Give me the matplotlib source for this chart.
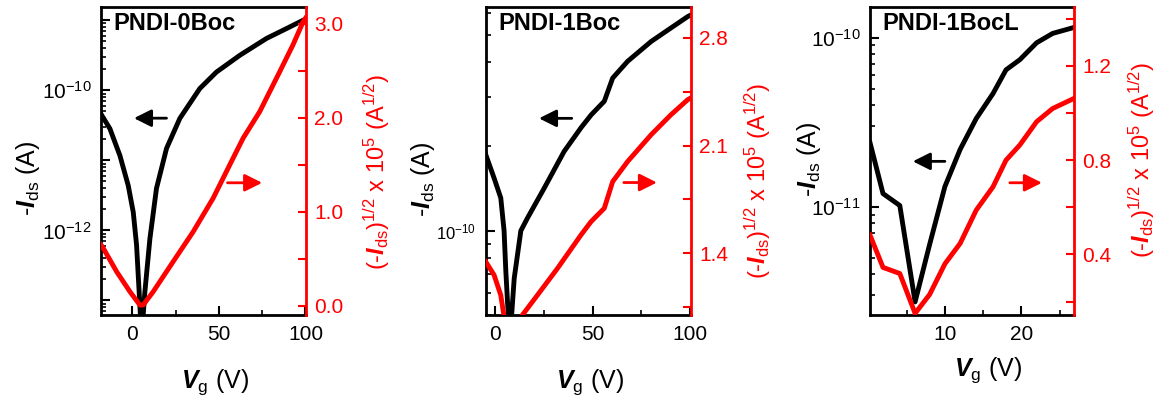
"""
PNDI 系トランジスタの伝達特性（3パネル）

左軸: -Ids（対数）、右軸: (-Ids)^1/2 x 10^5（線形）
"""

import matplotlib

matplotlib.use("Agg")
import matplotlib.pyplot as plt
from matplotlib.ticker import FixedLocator, NullFormatter, LogLocator

plt.rcParams["font.family"] = ["Liberation Sans", "DejaVu Sans"]
plt.rcParams["mathtext.fontset"] = "custom"
plt.rcParams["mathtext.rm"] = "Liberation Sans"
plt.rcParams["mathtext.it"] = "Liberation Sans:italic"
plt.rcParams["mathtext.bf"] = "Liberation Sans:bold"
plt.rcParams["mathtext.bfit"] = "Liberation Sans:bold:italic"

# ---- PNDI-0Boc ----
vg0_log = [-18, -17.6, -12.9, -7.1, -2.3, 0.6, 2.5, 4.0, 5.4, 7.3, 10.2, 14.0, 19.8, 27.5,
           39.0, 48.6, 62.1, 77.5, 89, 98.6, 100]
ids0 = [4.6e-11, 4.4e-11, 2.84e-11, 1.17e-11, 4.37e-12, 1.82e-12, 6.2e-13, 1.32e-13, 3.0e-14,
        1.32e-13, 7.6e-13, 3.98e-12, 1.48e-11, 3.98e-11, 1.06e-10, 1.82e-10, 3.16e-10, 5.5e-10,
        7.6e-10, 1.0e-9, 1.03e-9]
vg0_sqrt = [-18, -16.7, -9.0, -1.3, 4.4, 6.3, 12.1, 23.6, 35.2, 46.7, 58.2, 64, 73.6, 85.1, 92.8,
            98.6, 100]
sqrt0 = [0.65, 0.614, 0.365, 0.152, 0.01, 0.01, 0.152, 0.471, 0.79, 1.146, 1.571, 1.784, 2.067,
         2.49, 2.777, 3.02, 3.06]

# ---- PNDI-1Boc ----
vg1_log = [-4.8, -0.5, 2.9, 4.6, 5.5, 7.5, 9.8, 13.2, 16.6, 25.2, 35.4, 44.0, 49.2, 56.0, 60.3,
           68, 80, 90.2, 98.8, 100.5]
ids1 = [1.87e-10, 1.54e-10, 1.31e-10, 1.0e-10, 7.16e-11, 4.0e-11, 6.76e-11, 1.0e-10, 1.11e-10,
        1.42e-10, 1.92e-10, 2.33e-10, 2.59e-10, 2.90e-10, 3.51e-10, 4.03e-10, 4.74e-10, 5.30e-10,
        5.82e-10, 5.9e-10]
vg1_sqrt = [-4.8, -0.5, 2.9, 4.6, 9, 14.0, 21.7, 32.0, 44.0, 49.2, 56.0, 60.3, 68, 80, 90.2, 98.8,
            100.5]
sqrt1 = [1.346, 1.259, 1.129, 0.99, 0.8, 1.0, 1.129, 1.303, 1.519, 1.606, 1.693, 1.866, 1.997,
         2.17, 2.30, 2.398, 2.41]

# ---- PNDI-1BocL ----
vg2 = [0.2, 1.9, 4.1, 6.1, 8, 10, 12, 14.1, 16.3, 18, 19.8, 22, 24.1, 26.9]
ids2 = [2.4e-11, 1.2e-11, 1.02e-11, 2.75e-12, 6.0e-12, 1.32e-11, 2.19e-11, 3.33e-11, 4.68e-11,
        6.46e-11, 7.41e-11, 9.33e-11, 1.06e-10, 1.15e-10]
sqrt2 = [0.482, 0.345, 0.319, 0.15, 0.23, 0.36, 0.447, 0.588, 0.687, 0.8, 0.864, 0.963, 1.019, 1.062]

titles = ["PNDI-0Boc", "PNDI-1Boc", "PNDI-1BocL"]

LOG_LABEL = r"-$\mathbfit{I}_{\rm ds}$ (A)"
SQRT_LABEL = r"(-$\mathbfit{I}_{\rm ds}$)$^{1/2}$ x 10$^5$ (A$^{1/2}$)"
X_LABEL = r"$\mathbfit{V}_{\rm g}$ (V)"
LW = 3.5


def style_panel(ax, ax2, title):
    """軸・目盛の共通スタイル"""
    for side in ["left", "top", "bottom"]:
        ax.spines[side].set_linewidth(2)
    ax.spines["right"].set_visible(False)
    ax2.spines["right"].set_color("red")
    ax2.spines["right"].set_linewidth(2)
    for side in ["left", "top", "bottom"]:
        ax2.spines[side].set_visible(False)

    ax.tick_params(which="major", direction="in", length=6.5, width=1.5, labelsize=15, pad=7)
    ax.tick_params(which="minor", direction="in", length=3.5, width=1.2)
    ax.tick_params(axis="x", which="both", top=False)
    ax2.tick_params(which="major", direction="in", length=6, width=1.5, colors="red", labelsize=15, pad=6)
    ax2.tick_params(which="minor", direction="in", length=6, width=1.5, colors="red")

    ax.text(0.06, 0.985, title, transform=ax.transAxes, ha="left", va="top",
            fontsize=17, fontweight="bold")


def add_arrows(ax, ax2, black_xy, red_xy):
    """左右の軸を示す矢印"""
    style = "-|>,head_length=0.5,head_width=0.25"
    ax.annotate("", xy=black_xy[1], xytext=black_xy[0],
                arrowprops=dict(arrowstyle=style, color="black", lw=2,
                                mutation_scale=21, shrinkA=0, shrinkB=0))
    ax2.annotate("", xy=red_xy[1], xytext=red_xy[0],
                 arrowprops=dict(arrowstyle=style, color="red", lw=2,
                                 mutation_scale=21, shrinkA=0, shrinkB=0))


fig = plt.figure(figsize=(11.56, 4.07), dpi=100)
rects = [[0.0874, 0.226, 0.1773, 0.757],
         [0.4202, 0.226, 0.1776, 0.757],
         [0.7526, 0.226, 0.1765, 0.757]]
axes = [fig.add_axes(r) for r in rects]
twins = []

# パネル 1
ax = axes[0]
ax2 = ax.twinx()
twins.append(ax2)
ax.plot(vg0_log, ids0, color="black", lw=LW)
ax2.plot(vg0_sqrt, sqrt0, color="red", lw=LW)
ax.set_yscale("log")
ax.set_xlim(-18, 100.3)
ax.set_ylim(6.2e-14, 1.55e-9)
ax2.set_ylim(-0.096, 3.18)
ax.set_xticks([0, 50, 100])
ax.xaxis.set_minor_locator(FixedLocator([25, 75]))
ax.set_yticks([1e-13, 1e-12, 1e-11, 1e-10, 1e-9],
              ["", r"10$^{-12}$", "", r"10$^{-10}$", ""])
ax.yaxis.set_minor_locator(LogLocator(base=10, subs=range(2, 10), numticks=20))
ax.yaxis.set_minor_formatter(NullFormatter())
ax2.set_yticks([0, 1, 2, 3], ["0.0", "1.0", "2.0", "3.0"])
ax2.yaxis.set_minor_locator(FixedLocator([0.5, 1.5, 2.5]))
style_panel(ax, ax2, titles[0])
add_arrows(ax, ax2, [(19.8, 4.0e-11), (1.0, 4.0e-11)], [(55, 1.31), (75, 1.31)])

# パネル 2
ax = axes[1]
ax2 = ax.twinx()
twins.append(ax2)
ax.plot(vg1_log, ids1, color="black", lw=LW)
ax2.plot(vg1_sqrt, sqrt1, color="red", lw=LW)
ax.set_yscale("log")
ax.set_xlim(-4.8, 100.5)
ax.set_ylim(5.0e-11, 6.3e-10)
ax2.set_ylim(1.0, 3.0)
ax.set_xticks([0, 50, 100])
ax.xaxis.set_minor_locator(FixedLocator([25, 75]))
ax.set_yticks([1e-10], [r"10$^{-10}$"])
ax.yaxis.set_minor_locator(LogLocator(base=10, subs=range(2, 10), numticks=20))
ax.yaxis.set_minor_formatter(NullFormatter())
ax2.set_yticks([1.4, 2.1, 2.8], ["1.4", "2.1", "2.8"])
ax2.yaxis.set_minor_locator(FixedLocator([1.05, 1.75, 2.45]))
style_panel(ax, ax2, titles[1])
ax.tick_params(axis="y", labelsize=12)
add_arrows(ax, ax2, [(39.3, 2.52e-10), (22.5, 2.52e-10)], [(66, 1.86), (83, 1.86)])

# パネル 3
ax = axes[2]
ax2 = ax.twinx()
twins.append(ax2)
ax.plot(vg2, ids2, color="black", lw=LW)
ax2.plot(vg2, sqrt2, color="red", lw=LW)
ax.set_yscale("log")
ax.set_xlim(0.2, 26.9)
ax.set_ylim(2.3e-12, 1.52e-10)
ax2.set_ylim(0.143, 1.45)
ax.set_xticks([10, 20])
ax.xaxis.set_minor_locator(FixedLocator([5, 15, 25]))
ax.set_yticks([1e-11, 1e-10], [r"10$^{-11}$", r"10$^{-10}$"])
ax.yaxis.set_minor_locator(LogLocator(base=10, subs=range(2, 10), numticks=20))
ax.yaxis.set_minor_formatter(NullFormatter())
ax2.set_yticks([0.4, 0.8, 1.2], ["0.4", "0.8", "1.2"])
ax2.yaxis.set_minor_locator(FixedLocator([0.2, 0.6, 1.0, 1.4]))
style_panel(ax, ax2, titles[2])
add_arrows(ax, ax2, [(10, 1.86e-11), (5.8, 1.86e-11)], [(18.5, 0.704), (22.7, 0.704)])

# 軸ラベル（位置はパネルごとに調整）
left_label_pos = [(-0.288, 0.445), (-0.237, 0.44), (-0.23, 0.505)]
right_label_pos = [(1.27, 0.464), (1.253, 0.435), (1.26, 0.504)]
xlabel_pos = [(0.556, -0.17), (0.51, -0.17), (0.577, -0.13)]

for i, ax in enumerate(axes):
    ax.set_ylabel(LOG_LABEL, fontsize=18)
    ax.yaxis.set_label_coords(*left_label_pos[i])
    ax.set_xlabel(X_LABEL, fontsize=18)
    ax.xaxis.set_label_coords(*xlabel_pos[i])

for i, ax2 in enumerate(twins):
    ax2.set_ylabel(SQRT_LABEL, fontsize=17, color="red")
    ax2.yaxis.set_label_coords(*right_label_pos[i])

fig.savefig("out.png", dpi=100)
